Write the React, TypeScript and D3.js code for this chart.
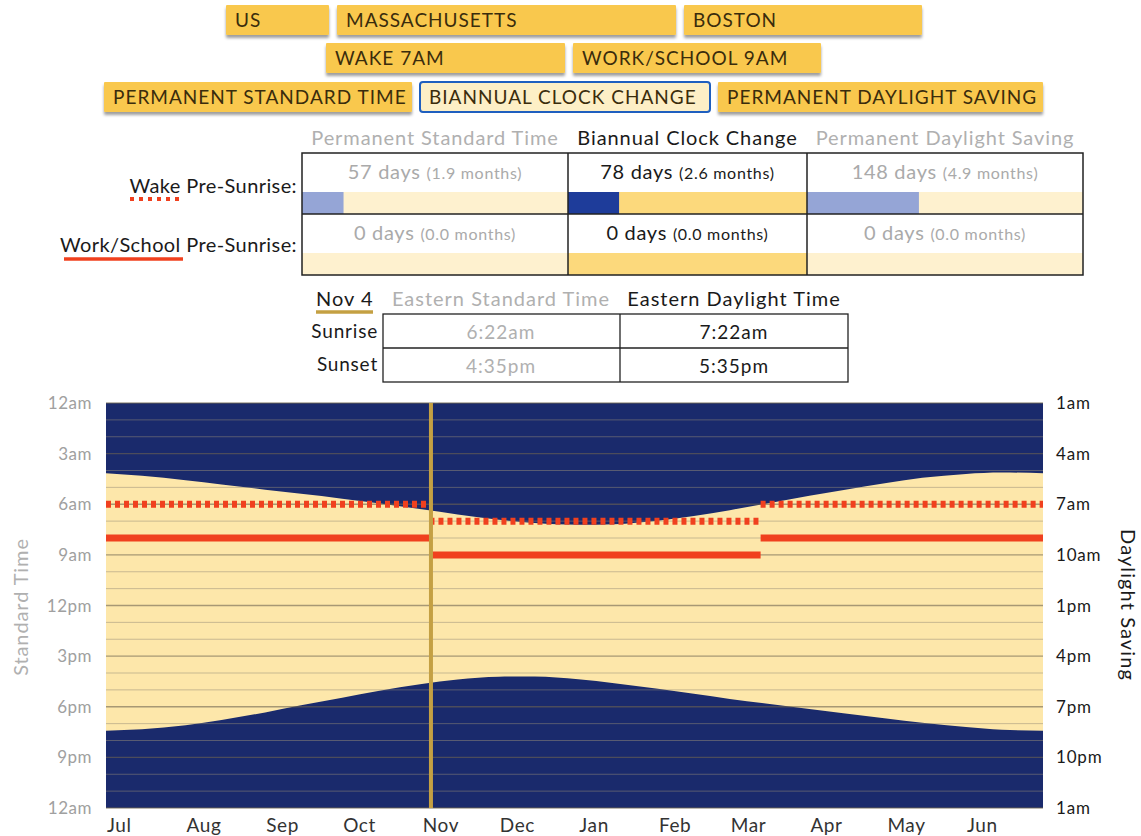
import React from "react";
import * as d3 from "d3";

// ---------- data ----------
const locationButtons = ["US", "MASSACHUSETTS", "BOSTON"];
const scheduleButtons = ["WAKE 7AM", "WORK/SCHOOL 9AM"];
const policyButtons = ["PERMANENT STANDARD TIME", "BIANNUAL CLOCK CHANGE", "PERMANENT DAYLIGHT SAVING"];
const selectedPolicy = 1;

const scenarioNames = ["Permanent Standard Time", "Biannual Clock Change", "Permanent Daylight Saving"];
const wakePreSunriseDays = [57, 78, 148];
const workPreSunriseDays = [0, 0, 0];

const selectedDateLabel = "Nov 4";
const zoneNames = ["Eastern Standard Time", "Eastern Daylight Time"];
const sunriseOnDate = ["6:22am", "7:22am"];
const sunsetOnDate = ["4:35pm", "5:35pm"];

// Boston sunrise / sunset in standard time (EST)
const sunDates = [
  "2018-07-01", "2018-07-15", "2018-08-01", "2018-08-15", "2018-09-01", "2018-09-15",
  "2018-10-01", "2018-10-15", "2018-11-01", "2018-11-15", "2018-12-01", "2018-12-15",
  "2019-01-01", "2019-01-15", "2019-02-01", "2019-02-15", "2019-03-01", "2019-03-15",
  "2019-04-01", "2019-04-15", "2019-05-01", "2019-05-15", "2019-06-01", "2019-06-15", "2019-07-01",
];
const sunriseStd = [
  "4:10", "4:19", "4:35", "4:50", "5:08", "5:23", "5:40", "5:56", "6:18", "6:36", "6:55", "7:07",
  "7:13", "7:11", "6:59", "6:42", "6:21", "5:58", "5:30", "5:08", "4:44", "4:26", "4:12", "4:07", "4:10",
];
const sunsetStd = [
  "19:25", "19:20", "19:06", "18:47", "18:20", "17:55", "17:28", "17:04", "16:39", "16:23", "16:13", "16:12",
  "16:22", "16:36", "16:56", "17:14", "17:32", "17:48", "18:08", "18:24", "18:42", "18:57", "19:12", "19:22", "19:25",
];

// clock periods (offset from standard time)
const periodStarts = ["2018-07-01", "2018-11-04", "2019-03-13"];
const periodEnds = ["2018-11-04", "2019-03-13", "2019-07-01"];
const periodOffsets = [1, 0, 1];
const wakeClockHour = 7;
const workClockHour = 9;
const selectedDate = "2018-11-04";

const leftTickHours = [0, 3, 6, 9, 12, 15, 18, 21, 24];
const leftTickLabels = ["12am", "3am", "6am", "9am", "12pm", "3pm", "6pm", "9pm", "12am"];
const rightTickLabels = ["1am", "4am", "7am", "10am", "1pm", "4pm", "7pm", "10pm", "1am"];

// ---------- layout / style ----------
const W = 1141, H = 836;
const FONT = "Lato, 'Open Sans', sans-serif";
const NAVY = "#1a2a6c";
const DAY = "#fde7aa";
const RED = "#f0401e";
const GOLD = "#c4a043";
const BTN = "#f9c84e";
const BTN_TEXT = "#3a2c0c";
const DARK = "#1a1a1a";
const GREY = "#b0b0b0";

const btnRowsLayout = [
  { y: 5, xs: [[226, 329], [337, 676], [684, 922]] },
  { y: 43, xs: [[326, 565], [573, 821]] },
  { y: 82, xs: [[104, 412], [420, 710], [718, 1043]] },
];
const colEdges = [302, 568, 807, 1083];

const parseDate = d3.timeParse("%Y-%m-%d");
const hm = (s: string) => {
  const [h, m] = s.split(":").map(Number);
  return h + m / 60;
};

export default function App() {
  const X0 = 106, X1 = 1043, Y0 = 403, Y1 = 808;
  const x = d3.scaleTime().domain([parseDate("2018-07-01")!, parseDate("2019-07-01")!]).range([X0, X1]);
  const y = d3.scaleLinear().domain([0, 24]).range([Y0, Y1]);

  const sun = sunDates.map((d, i) => ({ date: parseDate(d)!, rise: hm(sunriseStd[i]), set: hm(sunsetStd[i]) }));
  const dayArea = d3
    .area<any>()
    .x((d) => x(d.date))
    .y0((d) => y(d.rise))
    .y1((d) => y(d.set))
    .curve(d3.curveMonotoneX)(sun) as string;

  const months = d3.timeMonth.range(parseDate("2018-07-01")!, parseDate("2019-07-01")!);
  const fmtMonth = d3.timeFormat("%b");

  const periods = periodStarts.map((s, i) => ({
    x0: x(parseDate(s)!),
    x1: x(parseDate(periodEnds[i])!),
    off: periodOffsets[i],
  }));

  const btnRows = [locationButtons, scheduleButtons, policyButtons];

  const colCenter = (i: number) => (colEdges[i] + colEdges[i + 1]) / 2;
  const rowTops = [153, 214];
  const rowH = 61;
  const barH = 22;

  const selX = x(parseDate(selectedDate)!);

  return (
    <svg width={W} height={H} style={{ position: "absolute", left: 0, top: 0, fontFamily: FONT }}>
      <defs>
        <filter id="btnShadow" x="-5%" y="-20%" width="110%" height="160%">
          <feDropShadow dx="0" dy="3" stdDeviation="1.6" floodColor="#000" floodOpacity="0.38" />
        </filter>
      </defs>
      <rect width={W} height={H} fill="#fff" />

      {/* buttons */}
      {btnRows.map((row, ri) =>
        row.map((label, bi) => {
          const [bx0, bx1] = btnRowsLayout[ri].xs[bi];
          const by = btnRowsLayout[ri].y;
          const sel = ri === 2 && bi === selectedPolicy;
          return (
            <g key={label}>
              <rect
                x={bx0}
                y={by}
                width={bx1 - bx0}
                height={30}
                rx={sel ? 3 : 1}
                fill={sel ? "#fdefc6" : BTN}
                stroke={sel ? "#1f5fbf" : "none"}
                strokeWidth={sel ? 2 : 0}
                filter={sel ? undefined : "url(#btnShadow)"}
              />
              <text x={bx0 + 9} y={by + 22} fontSize={19} letterSpacing={1} fill={BTN_TEXT}>
                {label}
              </text>
            </g>
          );
        })
      )}

      {/* scenario table */}
      {scenarioNames.map((n, i) => (
        <text key={n} x={colCenter(i)} y={145} textAnchor="middle" fontSize={20} letterSpacing={0.9} fill={i === selectedPolicy ? DARK : GREY}>
          {n}
        </text>
      ))}
      {[wakePreSunriseDays, workPreSunriseDays].map((vals, ri) =>
        vals.map((v, ci) => {
          const sel = ci === selectedPolicy;
          const cx0 = colEdges[ci];
          const cw = colEdges[ci + 1] - cx0;
          const top = rowTops[ri];
          return (
            <g key={`${ri}-${ci}`}>
              <rect x={cx0} y={top + rowH - barH} width={cw} height={barH} fill={sel ? "#fcd97c" : "#fef1cf"} />
              <rect x={cx0} y={top + rowH - barH} width={(v / 365) * cw} height={barH} fill={sel ? "#1e3c9a" : "#95a5d6"} />
              <text x={cx0 + cw / 2} y={top + 26} textAnchor="middle" letterSpacing={0.7} fill={sel ? DARK : "#aaaaaa"}>
                <tspan fontSize={20}>{v} days </tspan>
                <tspan fontSize={16}>({(v / 30.4).toFixed(1)} months)</tspan>
              </text>
            </g>
          );
        })
      )}
      <rect x={colEdges[0]} y={rowTops[0]} width={colEdges[3] - colEdges[0]} height={rowH * 2} fill="none" stroke="#222" strokeWidth={1.5} />
      <line x1={colEdges[0]} x2={colEdges[3]} y1={rowTops[1]} y2={rowTops[1]} stroke="#222" strokeWidth={1.5} />
      {[1, 2].map((i) => (
        <line key={i} x1={colEdges[i]} x2={colEdges[i]} y1={rowTops[0]} y2={rowTops[0] + rowH * 2} stroke="#222" strokeWidth={1.5} />
      ))}
      <text x={297} y={193} textAnchor="end" fontSize={20} letterSpacing={0.4} fill={DARK}>
        Wake Pre-Sunrise:
      </text>
      <line x1={130} x2={180} y1={199} y2={199} stroke={RED} strokeWidth={4} strokeDasharray="4 5" />
      <text x={297} y={252} textAnchor="end" fontSize={20} letterSpacing={0.4} fill={DARK}>
        Work/School Pre-Sunrise:
      </text>
      <line x1={64} x2={183} y1={259} y2={259} stroke={RED} strokeWidth={3.5} />

      {/* selected date table */}
      <text x={316} y={306} fontSize={20} letterSpacing={1} fill={DARK}>
        {selectedDateLabel}
      </text>
      <line x1={316} x2={373} y1={312} y2={312} stroke={GOLD} strokeWidth={3.5} />
      {zoneNames.map((z, i) => (
        <text key={z} x={i === 0 ? 501 : 734} y={306} textAnchor="middle" fontSize={20} letterSpacing={1} fill={i === 0 ? GREY : DARK}>
          {z}
        </text>
      ))}
      <rect x={383} y={314} width={465} height={68} fill="none" stroke="#222" strokeWidth={1.3} />
      <line x1={383} x2={848} y1={348} y2={348} stroke="#222" strokeWidth={1.3} />
      <line x1={620} x2={620} y1={314} y2={382} stroke="#222" strokeWidth={1.3} />
      <text x={378} y={338} textAnchor="end" fontSize={19} letterSpacing={0.8} fill={DARK}>Sunrise</text>
      <text x={378} y={371} textAnchor="end" fontSize={19} letterSpacing={0.8} fill={DARK}>Sunset</text>
      {[sunriseOnDate, sunsetOnDate].map((vals, ri) =>
        vals.map((v, ci) => (
          <text key={`${ri}-${ci}`} x={ci === 0 ? 501 : 734} y={ri === 0 ? 339 : 373} textAnchor="middle" fontSize={19} letterSpacing={1} fill={ci === 0 ? GREY : DARK}>
            {v}
          </text>
        ))
      )}

      {/* main chart */}
      <rect x={X0} y={Y0} width={X1 - X0} height={Y1 - Y0} fill={NAVY} />
      <path d={dayArea} fill={DAY} />
      {d3.range(0, 25).map((h) => (
        <line
          key={h}
          x1={X0}
          x2={X1}
          y1={y(h)}
          y2={y(h)}
          stroke={h % 3 === 0 ? "rgba(110,100,80,0.6)" : "rgba(150,140,120,0.5)"}
          strokeWidth={h % 3 === 0 ? 1.3 : 1}
        />
      ))}
      {periods.map((p, i) => (
        <g key={i}>
          <line x1={p.x0} x2={p.x1} y1={y(wakeClockHour - p.off)} y2={y(wakeClockHour - p.off)} stroke={RED} strokeWidth={7} strokeDasharray="5 4" />
          <line x1={p.x0} x2={p.x1} y1={y(workClockHour - p.off)} y2={y(workClockHour - p.off)} stroke={RED} strokeWidth={7} />
        </g>
      ))}
      <line x1={selX + 1.5} x2={selX + 1.5} y1={Y0} y2={Y1} stroke={GOLD} strokeWidth={4} />

      {/* axes */}
      {leftTickHours.map((h, i) => (
        <text key={`l${i}`} x={92} y={y(h) + 6} textAnchor="end" fontSize={17} letterSpacing={0.5} fill="#a0a0a0">
          {leftTickLabels[i]}
        </text>
      ))}
      {leftTickHours.map((h, i) => (
        <text key={`r${i}`} x={1056} y={y(h) + 6} fontSize={17} letterSpacing={0.8} fill={DARK}>
          {rightTickLabels[i]}
        </text>
      ))}
      {months.map((m) => (
        <text key={+m} x={x(m) + 1} y={832} fontSize={19} letterSpacing={0.6} fill="#333">
          {fmtMonth(m)}
        </text>
      ))}
      <text transform={`translate(28,607) rotate(-90)`} textAnchor="middle" fontSize={20} letterSpacing={0.9} fill={GREY}>
        Standard Time
      </text>
      <text transform={`translate(1121,605) rotate(90)`} textAnchor="middle" fontSize={20} letterSpacing={1.1} fill={DARK}>
        Daylight Saving
      </text>
    </svg>
  );
}
